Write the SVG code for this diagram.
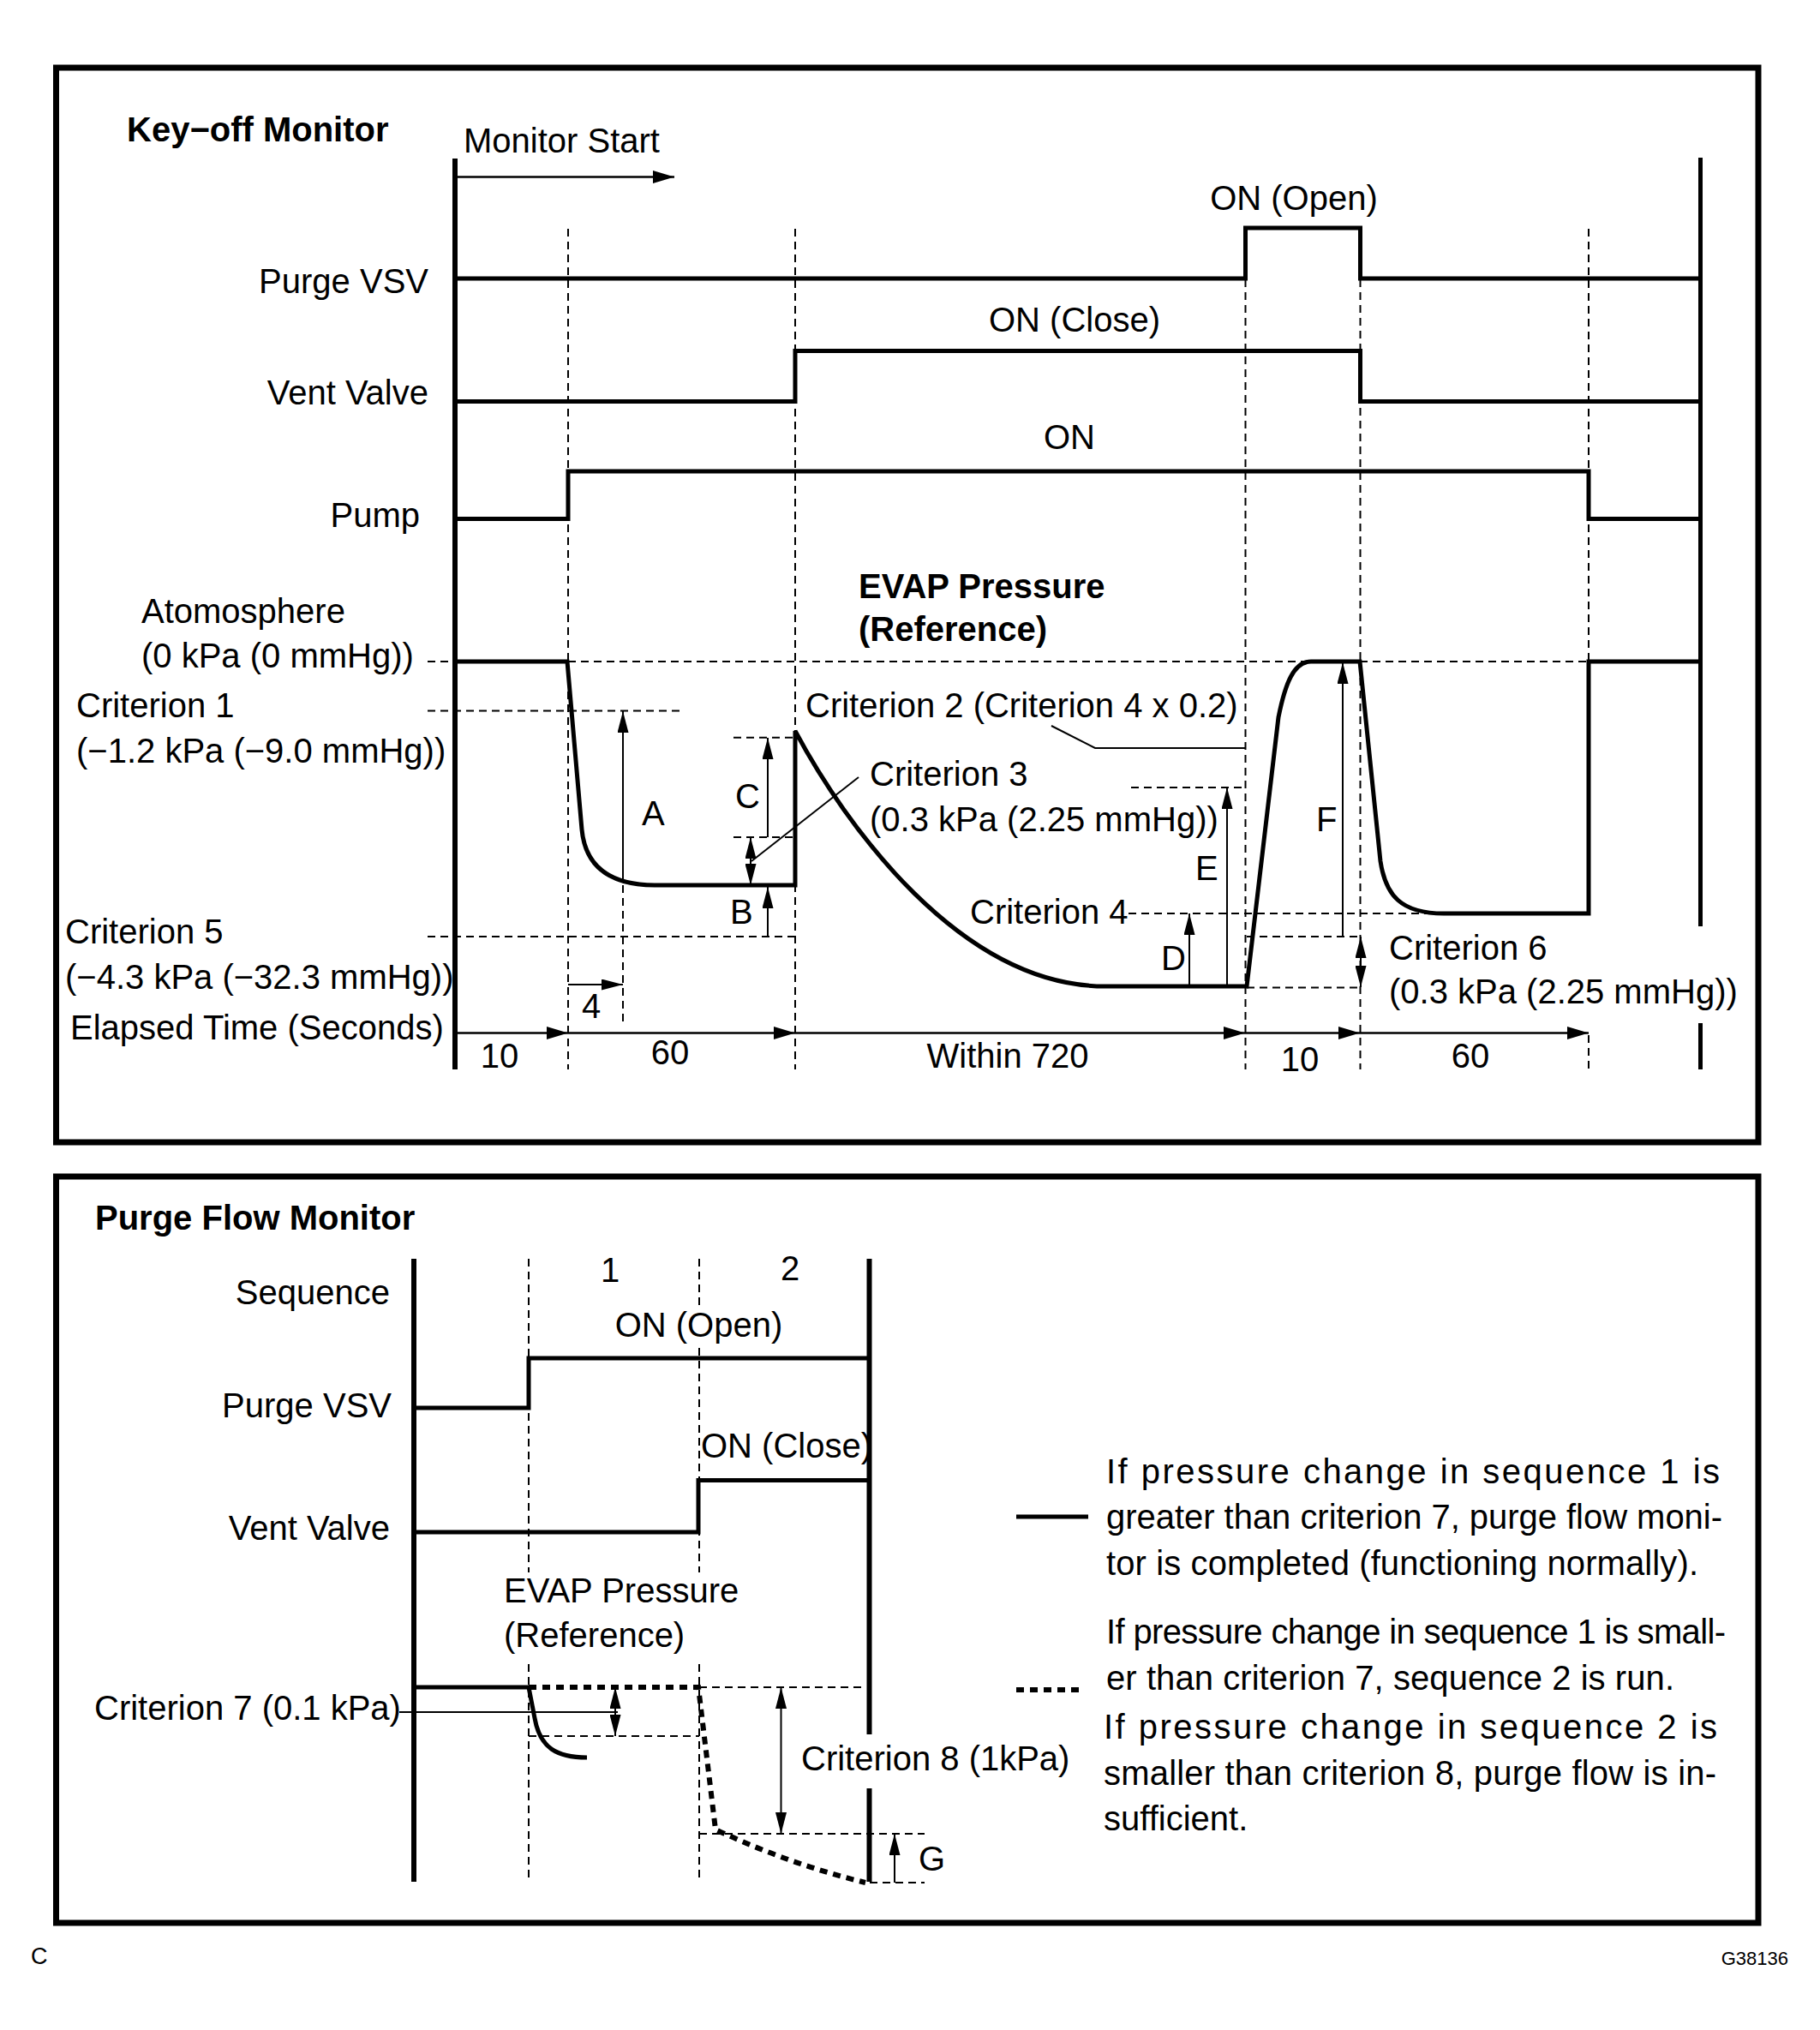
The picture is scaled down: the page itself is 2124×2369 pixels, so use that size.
<svg xmlns="http://www.w3.org/2000/svg" width="2124" height="2369" viewBox="0 0 2124 2369">
<style>
text{font-family:"Liberation Sans",Arial,sans-serif;font-size:40px;fill:#000}
.b{font-weight:bold}
.e{text-anchor:end}
.m{text-anchor:middle}
.frame{fill:none;stroke:#000;stroke-width:7}
.axis{fill:none;stroke:#000;stroke-width:6}
.sig{fill:none;stroke:#000;stroke-width:5;stroke-linejoin:miter}
.dash{fill:none;stroke:#000;stroke-width:2;stroke-dasharray:9 6}
.thin{fill:none;stroke:#000;stroke-width:2}
.arr{fill:none;stroke:#000;stroke-width:2;marker-end:url(#ah)}
.dbl{fill:none;stroke:#000;stroke-width:2;marker-end:url(#ah);marker-start:url(#ah)}
.time{fill:none;stroke:#000;stroke-width:2.5;marker-end:url(#ah2)}
.dot{fill:none;stroke:#000;stroke-width:6;stroke-dasharray:9 7}
</style>
<defs>
<marker id="ah" viewBox="0 0 25 13" refX="25" refY="6.5" markerWidth="25" markerHeight="13" markerUnits="userSpaceOnUse" orient="auto-start-reverse"><path d="M0,0 L25,6.5 L0,13 Z" fill="#000"/></marker>
<marker id="ah2" viewBox="0 0 25 15" refX="25" refY="7.5" markerWidth="25" markerHeight="15" markerUnits="userSpaceOnUse" orient="auto"><path d="M0,0 L25,7.5 L0,15 Z" fill="#000"/></marker>
</defs>
<rect width="2124" height="2369" fill="#fff"/>

<g id="keyoff-panel">
<rect class="frame" x="65.5" y="79" width="1986.5" height="1254"/>
<text class="b" x="148" y="165">Key−off Monitor</text>
<text x="541" y="178">Monitor Start</text>
<path class="axis" d="M531,185 V1248"/>
<path class="axis" style="stroke-width:5" d="M1984.5,184 V1081 M1984.5,1194 V1248"/>
</g>

<g id="purge-vsv">
<text class="e" x="500" y="342">Purge VSV</text>
<text class="m" x="1510" y="245">ON (Open)</text>
<path class="sig" d="M531,325 H1453.5 V266 H1587.5 V325 H1984"/>
</g>

<g id="vent-valve">
<text class="e" x="500" y="472">Vent Valve</text>
<text class="m" x="1254" y="387">ON (Close)</text>
<path class="sig" d="M531,468.5 H928 V409.5 H1587.5 V468.5 H1984"/>
</g>

<g id="pump">
<text class="e" x="490" y="615">Pump</text>
<text class="m" x="1248" y="524">ON</text>
<path class="sig" d="M531,605.5 H663 V550 H1854 V605.5 H1984"/>
</g>

<g id="evap-pressure">
<text class="b" x="1002" y="698">EVAP Pressure</text>
<text class="b" x="1002" y="748">(Reference)</text>
<text x="165" y="727">Atomosphere</text>
<text x="165" y="779">(0 kPa (0 mmHg))</text>
<text x="89" y="837">Criterion 1</text>
<text x="89" y="890">(−1.2 kPa (−9.0 mmHg))</text>
<text x="76" y="1101">Criterion 5</text>
<text x="76" y="1154">(−4.3 kPa (−32.3 mmHg))</text>
<text x="940" y="837">Criterion 2 (Criterion 4 x 0.2)</text>
<text x="1015" y="917">Criterion 3</text>
<text x="1015" y="970">(0.3 kPa (2.25 mmHg))</text>
<text x="1132" y="1078">Criterion 4</text>
<text x="1621" y="1120">Criterion 6</text>
<text x="1621" y="1171">(0.3 kPa (2.25 mmHg))</text>
<text x="749" y="963">A</text>
<text x="858" y="943">C</text>
<text x="852" y="1078">B</text>
<text x="679" y="1188">4</text>
<text x="1355" y="1132">D</text>
<text x="1395" y="1027">E</text>
<text x="1536" y="970">F</text>
<path class="sig" d="M531,772 L662,772 L679,968 C683,1010 710,1033 765,1033 L928,1033 L928,853 C985,960 1120,1151 1290,1151 L1455,1151 L1492,837 C1500,797 1510,772 1530,772 L1587,772 L1611,1005 C1617,1045 1635,1066 1685,1066 L1854,1066 L1854,772 L1984,772"/>
</g>

<g id="elapsed-time">
<text x="82" y="1213">Elapsed Time (Seconds)</text>
<text class="m" x="583" y="1246">10</text>
<text class="m" x="782" y="1242">60</text>
<text class="m" x="1176" y="1246">Within 720</text>
<text class="m" x="1517" y="1250">10</text>
<text class="m" x="1716" y="1246">60</text>
</g>

<g id="purge-flow-panel">
<rect class="frame" x="65.5" y="1373" width="1986.5" height="871"/>
<text class="b" x="111" y="1435">Purge Flow Monitor</text>
<path class="axis" d="M483,1469 V2196"/>
<path class="axis" d="M1014.5,1469 V2024 M1014.5,2087 V2196"/>
</g>

<g id="sequence">
<text class="e" x="455" y="1522">Sequence</text>
<text class="m" x="712" y="1496">1</text>
<text class="m" x="922" y="1494">2</text>
</g>

<g id="pf-purge-vsv">
<text class="e" x="457" y="1654">Purge VSV</text>
<text class="m" x="815.5" y="1560">ON (Open)</text>
<path class="sig" d="M483,1643 H617 V1585 H1014"/>
</g>

<g id="pf-vent-valve">
<text class="e" x="455" y="1797">Vent Valve</text>
<text x="818" y="1701">ON (Close)</text>
<path class="sig" d="M483,1788 H815 V1727.5 H1014"/>
</g>

<g id="pf-evap-pressure">
<text x="588" y="1870">EVAP Pressure</text>
<text x="588" y="1922">(Reference)</text>
<text x="110" y="2007">Criterion 7 (0.1 kPa)</text>
<text x="935" y="2066">Criterion 8 (1kPa)</text>
<text x="1072" y="2183">G</text>
<path class="dot" d="M617,1969 L815,1969 L835,2135 Q920,2175 1010,2197"/>
<path class="sig" d="M483,1969 L617,1969 L624,2005 C630,2040 650,2051 685,2051"/>
</g>

<g id="legend">
<path class="sig" d="M1186,1770 H1270"/>
<path class="dot" d="M1186,1972 H1262"/>
<text x="1291" y="1731" textLength="716" lengthAdjust="spacing">If pressure change in sequence 1 is</text>
<text x="1291" y="1784" textLength="719" lengthAdjust="spacing">greater than criterion 7, purge flow moni-</text>
<text x="1291" y="1838" textLength="691" lengthAdjust="spacing">tor is completed (functioning normally).</text>
<text x="1291" y="1918" textLength="723" lengthAdjust="spacing">If pressure change in sequence 1 is small-</text>
<text x="1291" y="1972" textLength="663" lengthAdjust="spacing">er than criterion 7, sequence 2 is run.</text>
<text x="1288" y="2029" textLength="716" lengthAdjust="spacing">If pressure change in sequence 2 is</text>
<text x="1288" y="2083" textLength="715" lengthAdjust="spacing">smaller than criterion 8, purge flow is in-</text>
<text x="1288" y="2136">sufficient.</text>
</g>

<g id="footer">
<text x="36" y="2292" style="font-size:27px">C</text>
<text class="e" x="2087" y="2293" style="font-size:22px">G38136</text>
</g>

<g id="connectors">
<path class="dash" d="M663,267 V1248 M928,267 V1248 M1453.5,326 V1248 M1587.5,326 V1248 M1854,267 V1066 M1854,1208 V1248"/>
<path class="dash" d="M499,772 H531 M663,772 H1527 M1587,772 H1854"/>
<path class="dash" d="M499,829.5 H793 M856,860.7 H928 M856,977 H928 M499,1093 H928 M727,1033 V1197"/>
<path class="dash" d="M1320,919 H1454 M1317,1066 H1676 M1455,1093 H1587 M1455,1152.5 H1587"/>
<path class="dash" d="M617,1469 V1835 M617,1942 V2194 M816,1469 V1526 M816,1573 V1835 M816,1942 V2194 M617,2026 H816 M816,1969 H1011 M816,2140 H1079 M1015,2197 H1079"/>
<path class="time" d="M531,206.5 H787"/>
<path class="time" d="M531,1205.5 H663"/>
<path class="time" d="M663,1205.5 H928"/>
<path class="time" d="M928,1205.5 H1453"/>
<path class="time" d="M1453,1205.5 H1587"/>
<path class="time" d="M1587,1205.5 H1854"/>
<path class="arr" d="M727,1028 V830"/>
<path class="arr" d="M896,977 V861"/>
<path class="dbl" d="M876,977 V1033"/>
<path class="arr" d="M896,1093 V1035"/>
<path class="arr" d="M663,1149 H727"/>
<path class="arr" d="M1388,1151 V1066"/>
<path class="arr" d="M1432,1151 V919"/>
<path class="arr" d="M1567,1093 V773"/>
<path class="dbl" d="M1588,1093 V1152"/>
<path class="thin" d="M1002,907 L877,1005"/>
<path class="thin" d="M1227,847 L1278,873 H1454"/>
<path class="dbl" d="M718,1969 V2026"/>
<path class="dbl" d="M911.5,1969 V2140"/>
<path class="arr" d="M1044,2197 V2140"/>
<path class="thin" d="M466,1998 H721"/>
</g>
</svg>
